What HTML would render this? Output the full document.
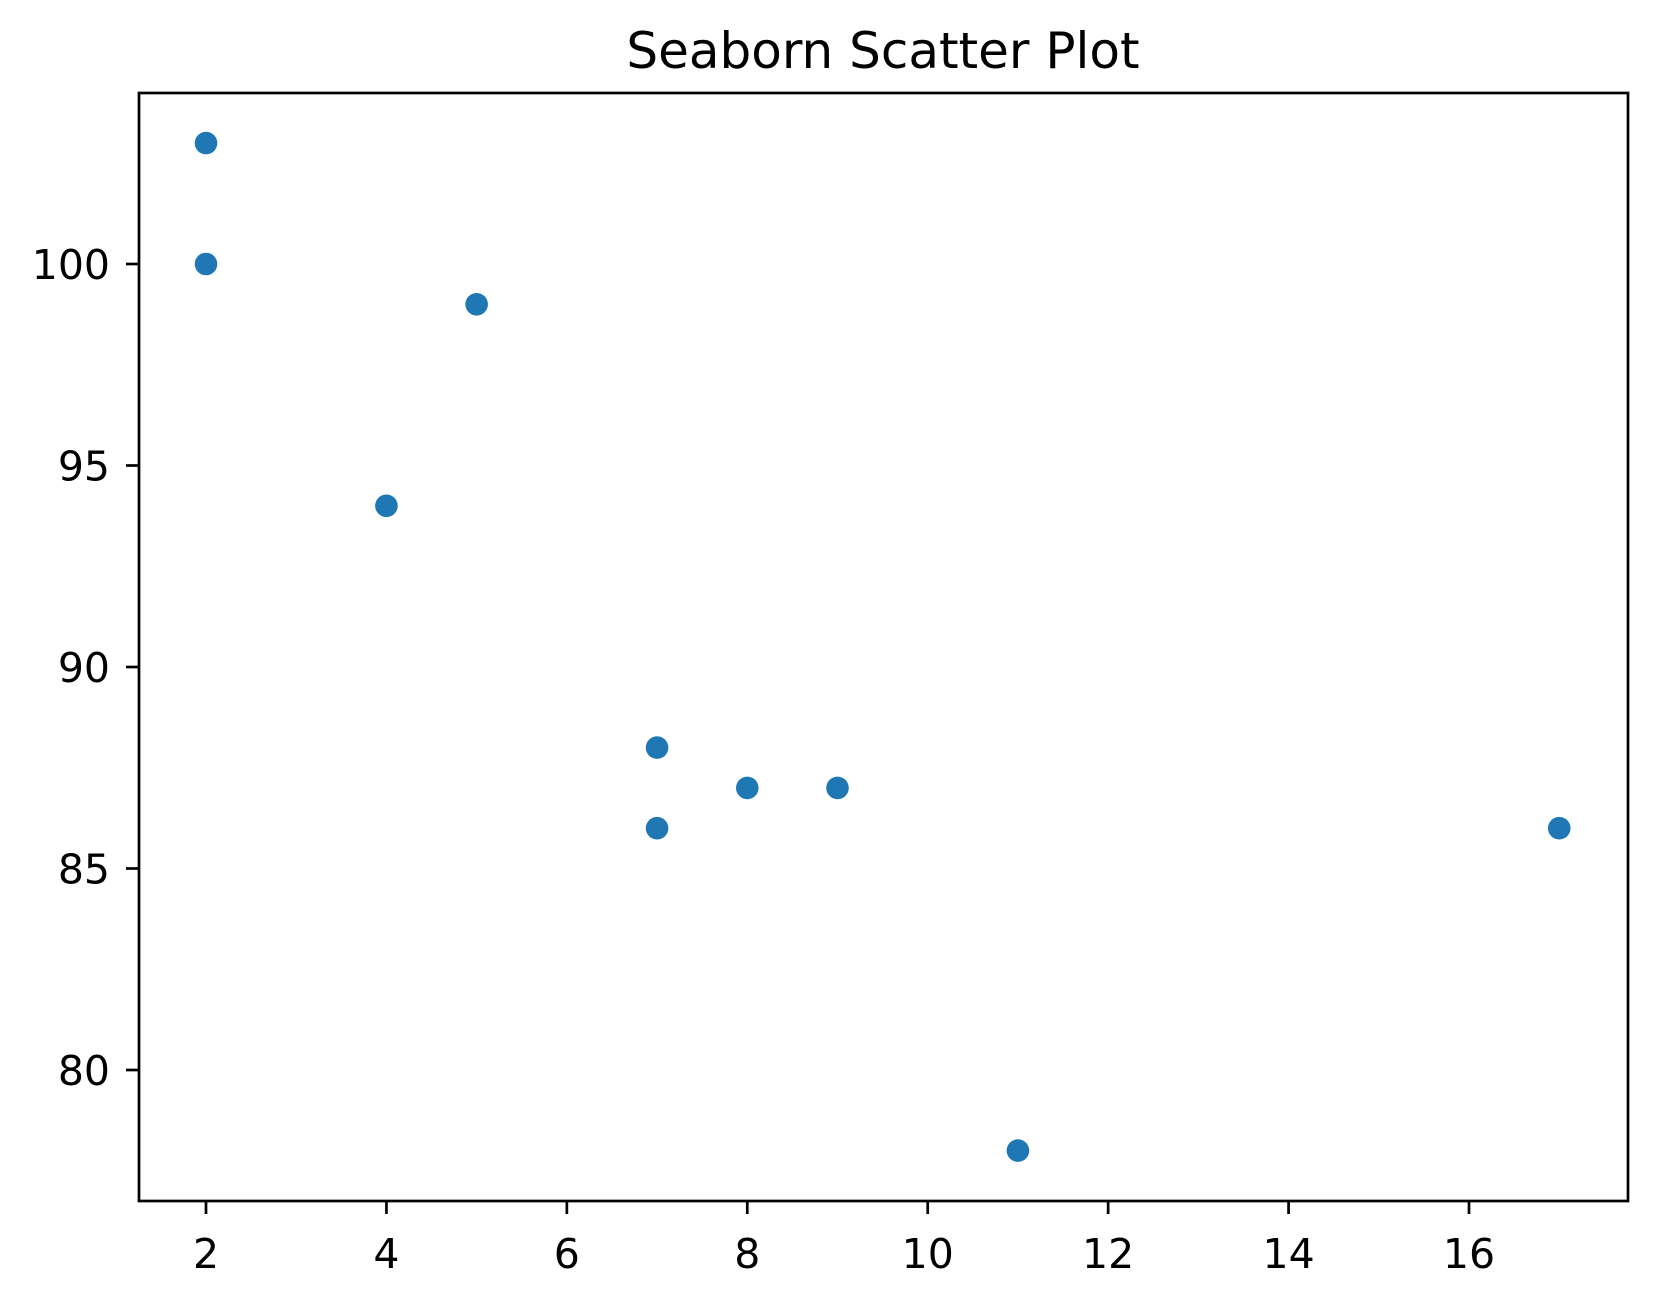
<!DOCTYPE html>
<html><head><meta charset="utf-8"><style>body{margin:0;background:#fff}svg{display:block}</style></head>
<body>
<svg id="chart" width="1656" height="1302" xmlns="http://www.w3.org/2000/svg" font-family="'DejaVu Sans','Liberation Sans',sans-serif">
<rect width="1656" height="1302" fill="#fff"/>
<text x="883" y="68" font-size="50" text-anchor="middle" fill="#000">Seaborn Scatter Plot</text>
<g id="marks"></g>
<g id="axes"></g>
<rect x="139" y="93" width="1489" height="1108" fill="none" stroke="#000" stroke-width="2.7"/>
</svg>
<script>
const xVals = [2, 2, 5, 4, 7, 7, 8, 9, 17, 11];
const yVals = [103, 100, 99, 94, 88, 86, 87, 87, 86, 78];
const xTicks = [2, 4, 6, 8, 10, 12, 14, 16];
const yTicks = [80, 85, 90, 95, 100];
const NS = 'http://www.w3.org/2000/svg';
function xs(v){ return 206 + (v - 2) * (1469 - 206) / 14; }
function ys(v){ return 264 + (100 - v) * 40.3; }
const marks = document.getElementById('marks');
xVals.forEach((x, i) => {
  const c = document.createElementNS(NS, 'circle');
  c.setAttribute('cx', xs(x)); c.setAttribute('cy', ys(yVals[i])); c.setAttribute('r', 11.3);
  c.setAttribute('fill', '#1f77b4');
  
  
  marks.appendChild(c);
});
const axes = document.getElementById('axes');
xTicks.forEach(t => {
  const l = document.createElementNS(NS, 'line');
  l.setAttribute('x1', xs(t)); l.setAttribute('x2', xs(t)); l.setAttribute('y1', 1201); l.setAttribute('y2', 1214);
  l.setAttribute('stroke', '#000'); l.setAttribute('stroke-width', 2.7);
  
  
  axes.appendChild(l);
  const tx = document.createElementNS(NS, 'text');
  tx.setAttribute('x', xs(t)); tx.setAttribute('y', 1268); tx.setAttribute('font-size', 41); tx.setAttribute('text-anchor', 'middle');
  tx.textContent = t;
  
  
  axes.appendChild(tx);
});
yTicks.forEach(t => {
  const l = document.createElementNS(NS, 'line');
  l.setAttribute('x1', 126); l.setAttribute('x2', 139); l.setAttribute('y1', ys(t)); l.setAttribute('y2', ys(t));
  l.setAttribute('stroke', '#000'); l.setAttribute('stroke-width', 2.7);
  
  
  axes.appendChild(l);
  const tx = document.createElementNS(NS, 'text');
  tx.setAttribute('x', 110); tx.setAttribute('y', ys(t) + 15); tx.setAttribute('font-size', 41); tx.setAttribute('text-anchor', 'end');
  tx.textContent = t;
  
  
  axes.appendChild(tx);
});
</script>
</body></html>
